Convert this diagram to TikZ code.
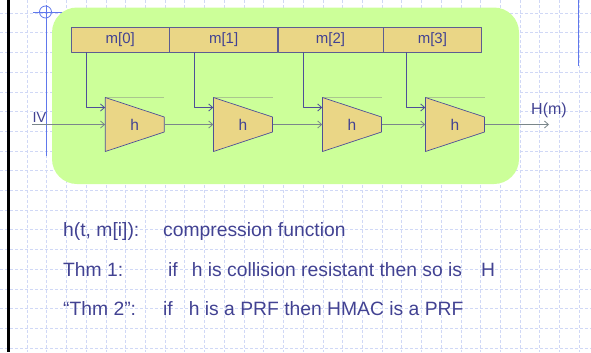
\documentclass[tikz,border=0pt]{standalone}
\usepackage{fontspec}
\setmainfont{Liberation Sans}
\usetikzlibrary{calc,arrows.meta,positioning}
\definecolor{slidegrid}{RGB}{208,216,246}
\definecolor{slideblue}{RGB}{96,120,236}
\definecolor{panelgreen}{RGB}{204,255,153}
\definecolor{cellfill}{RGB}{234,214,134}
\definecolor{inkblue}{RGB}{66,66,146}
\definecolor{wireblue}{RGB}{78,78,152}
\definecolor{wiregray}{RGB}{122,134,138}

\begin{document}
\begin{tikzpicture}[x=1bp,y=-1bp, line join=round,
  gridline/.style={slidegrid, line width=0.6bp, dash pattern=on 3bp off 2bp},
  cell/.style={draw=wireblue!70!gray, fill=cellfill, minimum height=25bp, inner sep=0pt,
    text=inkblue, font=\fontsize{15bp}{17bp}\selectfont},
  hbox/.style={minimum width=59bp, minimum height=54bp, inner sep=0pt,
    text=inkblue, font=\fontsize{15.5bp}{17bp}\selectfont},
  wire/.style={wiregray, line width=0.8bp, -{Straight Barb[length=4bp,width=7bp]}},
  txt/.style={inner sep=0pt, anchor=base west, text=inkblue, font=\fontsize{19.3bp}{23bp}\selectfont}]
\useasboundingbox (0,0) rectangle (591,352);
% slide grid
\foreach \i in {1,...,29}
  \draw[gridline] ({7.3+19.72*\i},0) -- ++(0,352);
\foreach \i in {0,...,17}
  \draw[gridline] (0,{13+19.7*\i}) -- ++(591,0);
\draw[line width=2.5bp] (8.5,0) -- (8.5,352);
% guides
\draw[slideblue, line width=0.8bp] (45.5,12) circle (6);
\draw[slideblue, line width=0.8bp] (33,12) -- (70,12);
\draw[slideblue, line width=0.8bp] (46,5) -- (46,156);
\draw[slideblue, line width=0.8bp] (578,0) -- (578,66);
% green panel
\fill[panelgreen, rounded corners=25bp] (52,7.5) rectangle (519,184);
% message blocks
\node[cell, minimum width=98bp, anchor=west] (m0) at (71,39.5) {m[0]};
\node[cell, minimum width=108bp, right=0pt of m0] (m1) {m[1]};
\node[cell, minimum width=105bp, right=0pt of m1] (m2) {m[2]};
\node[cell, minimum width=98bp, right=0pt of m2] (m3) {m[3]};
% compression boxes
\foreach \x [count=\i] in {134.8,243,352,455} {
  \draw[gray!45!panelgreen, line width=0.6bp] (\x-29.5,97.5) -- (\x+29.5,97.5);
  \filldraw[fill=cellfill, draw=wireblue, line width=0.7bp]
    (\x-29.5,97.5) -- (\x+29.5,117) -- (\x+29.5,132) -- (\x-29.5,151.5) -- cycle;
  \node[hbox] (h\i) at (\x,124.5) {h};
}
% chaining
\coordinate (ivin) at (32,124.5);
\coordinate (hout) at (549,124.5);
\node[text=inkblue, inner sep=0pt, font=\fontsize{14.5bp}{16bp}\selectfont] (iv) at (39.5,117.5) {IV};
\node[text=inkblue, inner sep=0pt, font=\fontsize{16bp}{18bp}\selectfont] (hm) at (549,110.5) {H(m)};
\draw[wire] (ivin) -- (h1.west);
\draw[wire] (h1.east) -- (h2.west);
\draw[wire] (h2.east) -- (h3.west);
\draw[wire] (h3.east) -- (h4.west);
\draw[wire] (h4.east) -- (hout);
\foreach \i/\j in {0/1,1/2,2/3,3/4} {
  \coordinate (d\i) at ($(h\j.west)+(-19,-17)$);
  \coordinate (t\i) at ($(h\j.west)+(0,-17)$);
  \draw[wire, wireblue] (d\i |- m\i.south) |- (t\i);
}
% statements
\node[txt] (c0) at (63,236.7) {h(t, m[i]):};
\node[txt] (c1) at (163,236.7) {compression function};
\node[txt] (t1) at (63,276.7) {Thm 1:};
\node[txt] (t1s) at (168,276.7) {if\hspace{14bp}h is collision resistant then so is\hspace{19bp}H};
\node[txt] (t2) at (63,315) {“Thm 2”:};
\node[txt] (t2s) at (163,315) {if\hspace{16bp}h is a PRF then HMAC is a PRF};
\end{tikzpicture}
\end{document}
